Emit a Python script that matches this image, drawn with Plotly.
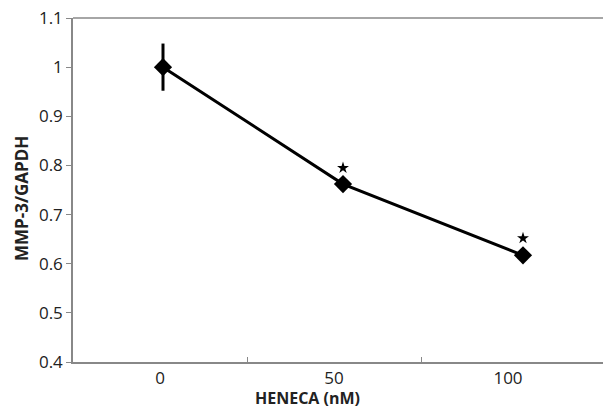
import plotly.graph_objects as go

categories = ["0", "50", "100"]
values = [1.0, 0.762, 0.617]
errors = [0.048, 0.008, 0.013]
star_y = [None, 0.795, 0.652]
yticks = [0.4, 0.5, 0.6, 0.7, 0.8, 0.9, 1.0, 1.1]
ytick_labels = ["0.4", "0.5", "0.6", "0.7", "0.8", "0.9", "1", "1.1"]

xpos = list(range(len(categories)))

fig = go.Figure()
# anchor trace for the labelled category axis (draws nothing)
fig.add_trace(go.Scatter(
    x=xpos, y=values, xaxis="x", mode="none", hoverinfo="skip", showlegend=False,
))
fig.add_trace(go.Scatter(
    x=xpos, y=values, xaxis="x2",
    mode="lines+markers",
    line=dict(color="black", width=3),
    marker=dict(symbol="diamond", size=14, color="black"),
    error_y=dict(type="data", array=errors, color="black", thickness=3, width=0),
    showlegend=False,
))
sx = [x for x, s in zip(xpos, star_y) if s is not None]
sy = [s for s in star_y if s is not None]
fig.add_trace(go.Scatter(
    x=sx, y=sy, xaxis="x2", mode="markers",
    marker=dict(symbol="star", size=9, color="black"),
    showlegend=False,
))

W, H = 603, 412
L, R, T, B = 73, 0, 18, 50
plot_w = W - L - R
plot_h = H - T - B
axis_cat_px = 174   # spacing of category labels / ticks on the axis
data_cat_px = 180   # spacing of plotted points
fig.update_layout(
    width=W, height=H,
    margin=dict(l=L, r=R, t=T, b=B),
    paper_bgcolor="white", plot_bgcolor="white",
    font=dict(family="Open Sans, Liberation Sans, sans-serif", size=17, color="#222"),
    xaxis=dict(
        range=[-0.5, -0.5 + plot_w / axis_cat_px],
        tickvals=xpos, ticktext=categories,
        ticks="", showgrid=False, zeroline=False,
        showline=True, linecolor="#888", linewidth=1.5,
        minor=dict(tickvals=[0.5, 1.5], ticks="inside", ticklen=5, tickcolor="#888"),
        tickfont=dict(size=17),
    ),
    xaxis2=dict(
        range=[-0.5, -0.5 + plot_w / data_cat_px],
        overlaying="x", visible=False,
    ),
    yaxis=dict(
        range=[0.4, 1.1],
        tickvals=yticks, ticktext=ytick_labels,
        ticks="outside", ticklen=5, tickcolor="#888",
        showgrid=False, zeroline=False,
        showline=True, linecolor="#888", linewidth=1.5,
        tickfont=dict(size=17),
    ),
    shapes=[dict(type="line", xref="paper", yref="paper", x0=0, x1=1, y0=1, y1=1,
                 line=dict(color="#888", width=1.5))],
    annotations=[
        dict(text="<b>HENECA (nM)</b>", xref="paper", yref="paper",
             x=(307 - L) / plot_w, y=-(398 - T - plot_h) / plot_h,
             xanchor="center", yanchor="middle", showarrow=False,
             font=dict(size=16, color="#222")),
        dict(text="<b>MMP-3/GAPDH</b>", xref="paper", yref="paper",
             x=-(L - 21) / plot_w, y=(T + plot_h - 199) / plot_h,
             xanchor="center", yanchor="middle", showarrow=False, textangle=-90,
             font=dict(size=17, color="#222")),
    ],
)

fig.write_html("out.html")
